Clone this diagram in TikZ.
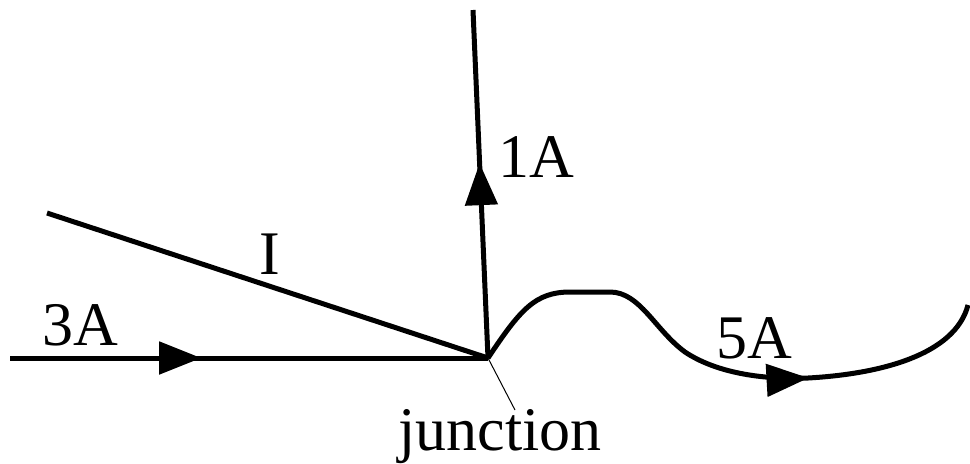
\documentclass[tikz,border=0pt]{standalone}
\usepackage{fontspec}
\setmainfont{Liberation Serif}
\usetikzlibrary{arrows.meta, decorations.markings}
\tikzset{
  wire/.style={line width=2.5pt, black},
  midarrow/.style={postaction={decorate, decoration={markings,
    mark=at position #1 with {\arrow{Triangle[length=21pt, width=16pt]}}}}},
  curlabel/.style={font=\fontsize{31}{31}\selectfont, inner sep=0pt},
  pointer/.style={line width=0.5pt, black}
}
\begin{document}
\begin{tikzpicture}[x=0.5pt, y=-0.5pt]
  \useasboundingbox (0,0) rectangle (970,463);
  % ends of the wires
  \coordinate (j)    at (488,358);
  \coordinate (in3)  at (10,358);
  \coordinate (inI)  at (47,213);
  \coordinate (out1) at (473,10);
  \coordinate (out5) at (968,305);
  % wires
  \draw[wire, midarrow=0.40] (in3) -- (j);
  \draw[wire] (inI) -- (j);
  \draw[wire, midarrow=0.56] (j) -- (out1);
  \draw[wire, midarrow=0.67] (j) .. controls (520,310) and (535,292) .. (570,292)
    -- (610,292) .. controls (640,292) and (655,330) .. (685,352)
    .. controls (715,372) and (760,380) .. (808,378)
    .. controls (880,374) and (955,355) .. (out5);
  % labels
  \node[curlabel, anchor=base west] (l3) at (42,345) {3A};
  \node[curlabel, anchor=base west] (lI) at (259,274) {I};
  \node[curlabel, anchor=base west] (l1) at (498,177) {1A};
  \node[curlabel, anchor=base west] (l5) at (716,358) {5A};
  \node[curlabel, anchor=base] (lj) at (500,450) {junction};
  \draw[pointer] (j) -- (515,410);
\end{tikzpicture}
\end{document}
